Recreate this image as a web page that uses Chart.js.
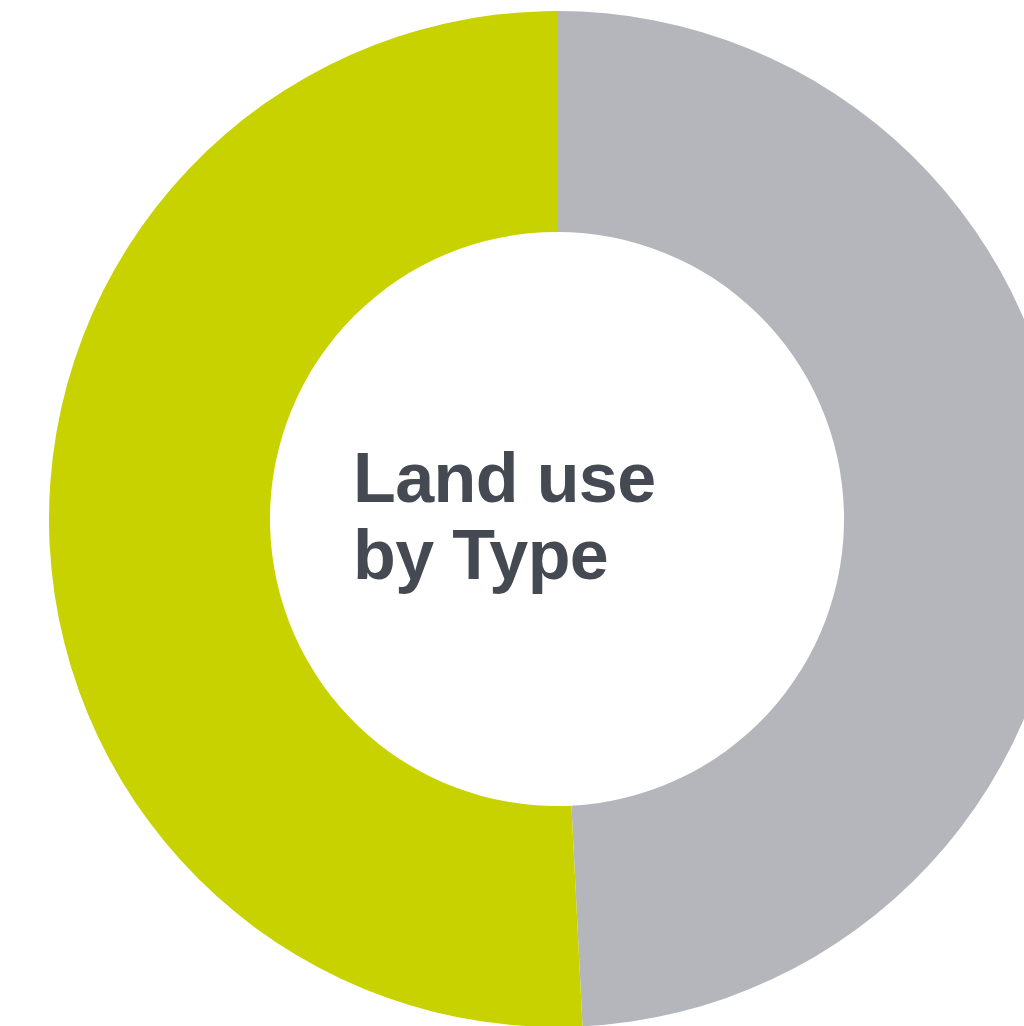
<!DOCTYPE html>
<html>
<head>
<meta charset="utf-8">
<script src="https://cdn.jsdelivr.net/npm/chart.js@4/dist/chart.umd.min.js"></script>
<style>
    html, body { margin: 0; padding: 0; background: #fff; overflow: hidden; width: 1024px; height: 1026px; }
    #wrap { position: absolute; left: 49px; top: 11px; width: 1016px; height: 1016px; }
</style>
</head>
<body>
<div id="wrap"><canvas id="landChart" width="1016" height="1016"></canvas></div>
<script>
// share of land per type, percent
const labels = ['Developed', 'Open land'];
const shares = [49.2, 50.8];
const colors = ['#b5b6bb', '#c8d200'];
const titleLines = ['Land use', 'by Type'];

// centre caption inside the ring
const centerTitle = {
    id: 'centerTitle',
    afterDraw(chart) {
        const ctx = chart.ctx;
        const meta = chart.getDatasetMeta(0).data[0];
        ctx.save();
        ctx.fillStyle = '#454a52';
        ctx.font = 'bold 70px "Liberation Sans", Arial, sans-serif';
        ctx.letterSpacing = '-0.6px';
        ctx.textAlign = 'left';
        ctx.textBaseline = 'alphabetic';
        const x = meta.x - 204;
        titleLines.forEach((line, i) => {
            ctx.fillText(line, x, meta.y - 17 + i * 77);
        });
        ctx.restore();
    }
};

new Chart(document.getElementById('landChart'), {
    type: 'doughnut',
    data: {
        labels: labels,
        datasets: [{
            data: shares,
            backgroundColor: colors,
            borderWidth: 0,
            hoverOffset: 0
        }]
    },
    options: {
        responsive: false,
        animation: false,
        cutout: '56.5%',
        layout: { padding: 0 },
        plugins: {
            legend: { display: false },
            tooltip: { enabled: false }
        }
    },
    plugins: [centerTitle]
});
</script>
</body>
</html>
